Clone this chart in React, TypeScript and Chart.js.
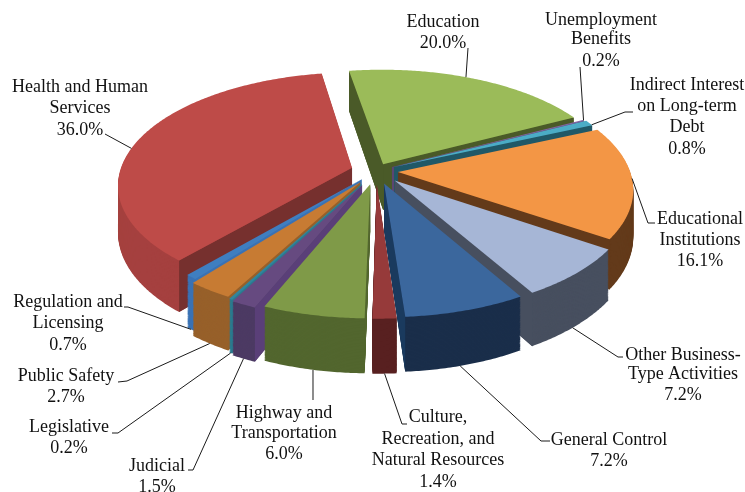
import React, { useEffect, useRef } from "react";
import { Chart, registerables } from "chart.js";

Chart.register(...registerables);

const categories = [
  "Education", "Unemployment Benefits", "Indirect Interest on Long-term Debt", "Educational Institutions",
  "Other Business-Type Activities", "General Control", "Culture, Recreation, and Natural Resources",
  "Highway and Transportation", "Judicial", "Legislative", "Public Safety", "Regulation and Licensing",
  "Health and Human Services",
];
const shares = [20.0, 0.2, 0.8, 16.1, 7.2, 7.2, 1.4, 6.0, 1.5, 0.2, 2.7, 0.7, 36.0];
const topColors = ["#9BBB59", "#8064A2", "#4BACC6", "#F39645", "#A6B6D6", "#3B679D", "#963A3A", "#7F9A48", "#664A80", "#31859C", "#C77B33", "#3F7EC0", "#BE4B48"];
const rimColors = ["#4F6228", "#5A4673", "#205867", "#633A1A", "#474F5F", "#1A2E4A", "#582020", "#52662E", "#4C3A63", "#2A7A8E", "#97602A", "#3A72B4", "#A5403F"];
const faceColors = ["#4A5A28", "#5A4673", "#205867", "#633A1A", "#474F5F", "#1A3A5E", "#582020", "#52662E", "#5A3F78", "#2A7A8E", "#97602A", "#3A72B4", "#76302E"];
const explode = [16, 18, 20, 22, 27, 27, 28, 28, 32, 30, 28, 22, 25];

const labelLines = [
  ["Education", "20.0%"],
  ["Unemployment", "Benefits", "0.2%"],
  ["Indirect Interest", "on Long-term", "Debt", "0.8%"],
  ["Educational", "Institutions", "16.1%"],
  ["Other Business-", "Type Activities", "7.2%"],
  ["General Control", "7.2%"],
  ["Culture,", "Recreation, and", "Natural Resources", "1.4%"],
  ["Highway and", "Transportation", "6.0%"],
  ["Judicial", "1.5%"],
  ["Legislative", "0.2%"],
  ["Public Safety", "2.7%"],
  ["Regulation and", "Licensing", "0.7%"],
  ["Health and Human", "Services", "36.0%"],
];

// Layout of the label blocks: centre x and the middle y of each line.
const labelX = [443, 601, 687, 700, 683, 609, 438, 284, 157, 69, 66, 68, 80];
const labelY = [
  [22, 43], [20, 39, 61], [85, 106, 127, 149], [219, 240, 261], [355, 374, 395], [440, 461],
  [417, 439, 460, 482], [413, 433, 454], [466, 487], [427, 448], [376, 397], [302, 323, 345], [87, 108, 130],
];
// Leader lines: where on the slice they start (fraction of its sweep, on the top or bottom rim), then their route.
const leaderFrac = [0.47, 0.5, 0.9, 0.47, 0.55, 0.55, 0.5, 0.5, 0.5, 0.5, 0.5, 0.5, 0.46];
const leaderOnBottom = [false, false, false, false, true, true, true, true, true, true, true, true, false];
const leaderRoute = [
  [[468, 48]], [[580, 67]], [[625, 112], [633, 112]], [[648, 223], [655, 223]], [[618, 357], [623, 357]],
  [[541, 441], [550, 441]], [[402, 424], [407, 424]], [[313, 400]], [[193, 470], [188, 470]],
  [[118, 433], [112, 433]], [[127, 381], [118, 382]], [[128, 307], [124, 307]], [[105, 134]],
];

const VIEW_X = 376;
const VIEW_Y = 171;
const TILT = 0.475;
const PERSP = 0.00063;
const DEPTH = 46;

const project = (X: number, Y: number, z: number) => {
  const s = 1 / (1 - PERSP * Y);
  return [VIEW_X + X * s, VIEW_Y + s * (TILT * Y + z)];
};

const pie3d = {
  id: "pie3d",
  beforeDatasetsDraw(chart: any) {
    const ctx = chart.ctx as CanvasRenderingContext2D;
    const arcs = chart.getDatasetMeta(0).data as any[];
    const geom = arcs.map((a) => {
      const mid = (a.startAngle + a.endAngle) / 2;
      const off = a.options.offset;
      return { s: a.startAngle, e: a.endAngle, mid, ox: off * Math.cos(mid), oy: off * Math.sin(mid), r: a.outerRadius };
    });
    const order = geom.map((_, i) => i).sort((p, q) => Math.sin(geom[p].mid) - Math.sin(geom[q].mid));
    const fillPoly = (pts: number[][], color: string) => {
      ctx.beginPath();
      pts.forEach((p, k) => (k ? ctx.lineTo(p[0], p[1]) : ctx.moveTo(p[0], p[1])));
      ctx.closePath();
      ctx.fillStyle = color;
      ctx.fill();
    };
    const sector = (g: any, z: number) => {
      const pts = [project(g.ox, g.oy, z)];
      const n = Math.max(2, Math.ceil((g.e - g.s) / 0.01));
      for (let k = 0; k <= n; k++) {
        const t = g.s + ((g.e - g.s) * k) / n;
        pts.push(project(g.ox + g.r * Math.cos(t), g.oy + g.r * Math.sin(t), z));
      }
      return pts;
    };
    const face = (g: any, t: number) => [
      project(g.ox, g.oy, 0),
      project(g.ox + g.r * Math.cos(t), g.oy + g.r * Math.sin(t), 0),
      project(g.ox + g.r * Math.cos(t), g.oy + g.r * Math.sin(t), DEPTH),
      project(g.ox, g.oy, DEPTH),
    ];
    order.forEach((i) => {
      const g = geom[i];
      for (let z = DEPTH; z > 0; z--) fillPoly(sector(g, z), rimColors[i]);
      if (Math.cos(g.s) < 0.02) fillPoly(face(g, g.s), faceColors[i]);
      if (Math.cos(g.e) > -0.02) fillPoly(face(g, g.e), faceColors[i]);
      fillPoly(sector(g, 0), topColors[i]);
    });
    return false;
  },
  afterDraw(chart: any) {
    const ctx = chart.ctx as CanvasRenderingContext2D;
    const arcs = chart.getDatasetMeta(0).data as any[];
    ctx.save();
    ctx.strokeStyle = "#1a1a1a";
    ctx.lineWidth = 1;
    arcs.forEach((a, i) => {
      const mid = (a.startAngle + a.endAngle) / 2;
      const off = a.options.offset;
      const t = a.startAngle + (a.endAngle - a.startAngle) * leaderFrac[i];
      const p = project(off * Math.cos(mid) + a.outerRadius * Math.cos(t), off * Math.sin(mid) + a.outerRadius * Math.sin(t), leaderOnBottom[i] ? DEPTH : 0);
      ctx.beginPath();
      ctx.moveTo(p[0], p[1]);
      leaderRoute[i].forEach((q) => ctx.lineTo(q[0], q[1]));
      ctx.stroke();
    });
    ctx.fillStyle = "#111";
    ctx.font = '18px "Liberation Serif"';
    ctx.textAlign = "center";
    ctx.textBaseline = "middle";
    labelLines.forEach((lines, i) => lines.forEach((line, k) => ctx.fillText(line, labelX[i], labelY[i][k])));
    ctx.restore();
  },
};

export default function App() {
  const ref = useRef<HTMLCanvasElement>(null);
  useEffect(() => {
    const chart = new Chart(ref.current!, {
      type: "pie",
      data: {
        labels: categories,
        datasets: [{ data: shares, backgroundColor: topColors, offset: explode, borderWidth: 0, radius: 232 }],
      },
      options: {
        responsive: false,
        animation: false,
        rotation: -9.5,
        plugins: { legend: { display: false }, tooltip: { enabled: false } },
      },
      plugins: [pie3d],
    } as any);
    return () => chart.destroy();
  }, []);
  return (
    <div style={{ position: "absolute", left: 0, top: 0, width: 745, height: 492, background: "#fff" }}>
      <canvas ref={ref} width={745} height={492} style={{ display: "block" }} />
    </div>
  );
}
